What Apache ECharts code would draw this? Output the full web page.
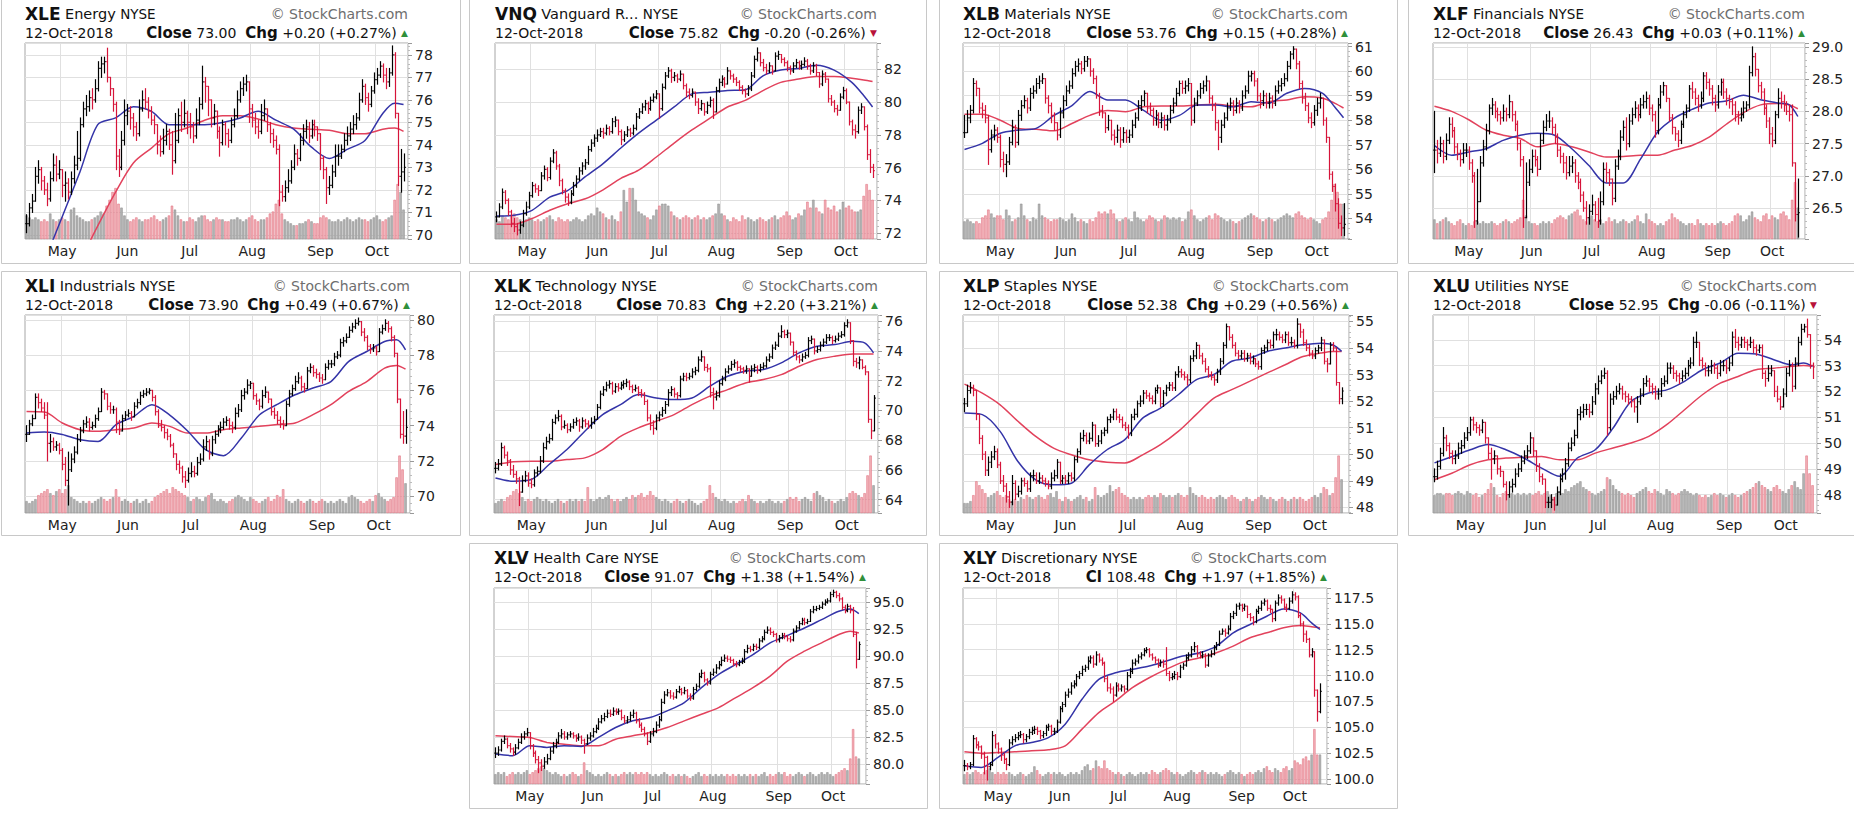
<!DOCTYPE html>
<html><head><meta charset="utf-8">
<script src="https://cdn.jsdelivr.net/npm/echarts@6/dist/echarts.min.js"></script>
<style>html,body{margin:0;padding:0;background:#fff;}#c{width:1854px;height:828px;}</style>
</head><body><div id="c"></div>
<script>
// ---- categories (trading days 13-Apr-2018 .. 12-Oct-2018) ----
const monthNames = ['Apr','May','Jun','Jul','Aug','Sep','Oct'];
const monthDays = [12,22,21,21,23,19,10];
const maDays = [0,6,12,18,24,30,36,42,48,54,60,66,72,78,84,90,96,102,108,114,120,124,127];

// ---- XLE ----
const xleC = [70.5,71.2,71.5,72.6,72.9,72.4,72.0,71.6,72.5,73.1,72.7,72.9,72.2,72.3,71.9,72.5,
73.1,73.4,74.9,75.6,75.7,76.1,76.0,76.5,77.4,77.6,77.7,77.0,76.5,75.8,73.5,73.0,
74.2,75.3,75.5,75.2,74.8,74.5,75.6,76.0,75.9,75.5,75.1,74.9,74.0,73.7,74.2,74.6,
74.0,73.3,74.2,75.3,75.0,75.4,75.0,74.8,74.4,75.1,75.8,76.8,76.6,76.0,75.2,75.5,
74.6,74.1,74.9,74.5,74.2,74.9,75.3,76.0,76.5,76.7,76.8,75.6,75.1,74.8,74.6,75.3,
75.6,74.9,74.5,74.2,73.8,71.9,71.7,72.1,72.4,73.0,73.6,73.4,74.2,74.6,74.8,74.4,
74.9,74.8,74.5,73.4,72.9,72.1,72.2,72.8,73.5,73.5,73.8,74.2,74.4,74.7,74.9,75.2,
76.0,76.6,76.1,75.8,76.4,76.9,77.1,77.5,77.1,76.8,77.2,78.0,75.4,72.6,72.8,73.0];
const xleH = [70.9,71.4,71.8,73.0,73.3,73.0,72.6,72.3,72.8,73.6,73.5,73.3,72.9,72.8,72.5,72.8,
73.5,74.6,75.2,75.9,76.2,76.4,76.5,76.9,77.7,77.9,77.9,78.3,77.0,76.4,75.9,73.8,
74.6,76.0,75.8,75.7,75.4,75.0,76.0,76.4,76.5,76.1,75.7,75.3,74.8,74.4,74.7,74.9,
74.7,74.6,75.4,75.6,75.9,76.0,75.5,75.4,75.0,75.6,76.1,77.5,77.0,76.6,75.9,75.8,
75.5,74.8,75.1,75.0,74.7,75.2,75.6,76.4,76.8,77.0,77.1,76.5,75.8,75.4,75.1,75.8,
76.0,75.5,75.0,74.7,74.4,74.0,72.2,72.4,72.9,73.3,74.0,73.8,74.5,74.9,75.1,75.0,
75.1,75.1,74.8,74.3,73.5,73.0,72.6,73.1,74.0,74.0,74.0,74.5,74.8,75.0,75.3,75.4,
76.3,76.9,76.7,76.3,76.6,77.2,77.4,77.7,77.6,77.4,77.4,78.4,78.1,74.7,73.8,73.6];
const xleL = [70.1,70.4,71.0,71.5,72.3,72.0,71.8,71.3,71.5,72.4,72.4,72.5,71.7,71.5,71.6,71.8,
72.3,72.9,73.3,74.8,75.3,75.5,75.6,75.9,76.4,77.0,77.2,76.8,76.2,75.5,72.9,72.6,
72.9,74.0,74.9,74.7,74.4,74.2,74.4,75.5,75.6,75.2,74.9,74.5,73.6,73.5,73.6,74.0,
73.8,72.7,73.2,74.1,74.6,74.8,74.5,74.3,74.1,74.3,74.9,75.6,75.9,75.3,74.8,74.9,
74.3,73.5,74.0,74.0,73.9,74.1,74.8,75.2,75.9,76.2,76.4,75.0,74.8,74.5,74.3,74.5,
75.1,74.6,74.1,73.9,73.6,71.3,71.5,71.5,71.9,72.3,72.9,73.1,73.3,74.0,74.3,74.1,
74.3,74.4,74.2,72.9,72.5,71.4,71.8,72.1,72.6,73.1,73.4,73.7,74.0,74.2,74.5,74.7,
75.1,75.9,75.8,75.5,75.7,76.3,76.7,77.0,76.8,76.5,76.6,77.1,75.2,72.2,71.9,72.4];
const xleV = [12,11,10,11,10,9,10,9,13,10,9,10,11,10,9,15,
16,12,11,10,9,9,10,11,12,14,13,17,20,24,26,18,
16,12,10,9,10,11,10,9,10,10,11,12,10,9,10,11,
12,17,15,12,10,9,9,11,10,9,11,12,12,10,9,10,
11,10,10,9,9,10,10,11,10,9,10,11,12,10,9,10,
10,11,13,14,18,20,13,10,9,8,7,7,8,8,9,10,
9,8,8,11,12,11,10,9,9,10,9,10,11,10,9,10,
11,10,10,9,10,11,12,10,9,10,11,12,20,28,24,15];
const xleMa20 = [66.7,68.8,70.8,72.8,74.9,75.2,75.7,75.5,74.9,74.9,74.9,75.0,75.2,75.5,75.1,74.7,73.9,73.4,73.8,74.2,75.4,75.85,75.8];
const xleMa50 = [63.5,65.3,67.0,68.8,70.4,71.9,73.2,73.85,74.5,74.75,75.1,75.3,75.3,75.15,74.9,74.75,74.7,74.65,74.5,74.5,74.7,74.75,74.6];

// ---- VNQ ----
const vnqC = [73.0,73.6,74.5,74.0,73.3,72.6,72.4,72.2,72.5,73.2,73.6,74.3,74.9,74.7,74.6,75.5,
75.9,75.4,76.4,76.9,76.1,75.2,74.6,74.2,73.9,74.4,74.9,75.3,75.8,76.1,76.3,77.1,
77.5,77.8,78.0,78.2,78.1,78.4,78.2,78.8,78.9,78.2,77.7,78.0,78.3,78.1,78.4,79.1,
79.4,79.7,79.9,79.6,80.1,80.3,80.5,79.6,80.9,81.6,81.9,81.5,81.6,81.4,81.7,81.0,
80.6,80.4,80.6,80.0,79.6,79.9,79.4,79.8,80.1,79.4,80.7,81.2,81.4,81.1,81.9,81.6,
81.4,81.2,80.9,80.7,80.5,80.8,81.6,82.6,83.0,82.4,82.1,81.9,82.2,81.9,82.8,82.9,
82.6,82.4,82.1,81.9,82.2,82.4,82.2,82.3,82.5,82.2,81.9,82.2,81.8,81.1,81.7,81.4,
80.2,80.0,79.6,79.5,80.3,80.7,80.0,78.8,78.3,78.2,79.5,79.7,78.5,76.8,76.02,75.82];
const vnqH = [73.3,73.8,74.7,74.6,74.1,73.4,72.9,72.6,72.7,73.4,73.9,74.5,75.1,75.0,74.9,75.7,
76.1,76.0,76.6,77.1,77.0,76.2,75.3,74.7,74.4,74.6,75.1,75.5,76.0,76.3,76.5,77.3,
77.7,78.0,78.3,78.4,78.4,78.6,78.5,79.0,79.1,78.9,78.3,78.2,78.5,78.4,78.6,79.3,
79.6,79.9,80.1,80.0,80.3,80.5,80.7,80.4,81.1,81.8,82.1,82.0,81.8,81.7,81.9,81.7,
81.1,80.8,80.8,80.6,80.2,80.1,79.9,80.0,80.3,80.2,80.9,81.4,81.6,81.5,82.1,81.9,
81.7,81.5,81.3,81.0,80.8,81.0,81.8,82.8,83.3,83.0,82.6,82.3,82.4,82.2,83.0,83.1,
82.9,82.7,82.5,82.2,82.4,82.6,82.5,82.5,82.7,82.6,82.3,82.4,82.3,81.8,81.9,81.8,
81.3,80.4,80.1,79.8,80.5,80.9,80.8,80.0,78.9,78.6,79.7,79.9,79.7,78.6,77.1,76.2];
const vnqL = [72.7,73.0,73.5,73.8,73.1,72.4,72.1,71.9,72.0,72.4,73.1,73.5,74.2,74.5,74.3,74.6,
75.3,75.2,75.3,76.3,75.9,74.9,74.4,73.9,73.7,73.8,74.3,74.8,75.2,75.6,75.9,76.2,
77.0,77.3,77.6,77.9,77.8,78.0,78.0,78.1,78.5,78.0,77.4,77.6,77.9,77.9,78.0,78.3,
79.0,79.3,79.5,79.3,79.5,80.0,80.2,79.0,79.5,80.8,81.5,81.2,81.3,81.2,81.3,80.8,
80.3,80.2,80.3,79.8,79.3,79.5,79.2,79.3,79.7,79.0,79.4,80.6,81.0,80.9,81.1,81.4,
81.2,81.0,80.7,80.5,80.3,80.4,80.7,81.5,82.5,82.2,81.9,81.7,81.8,81.7,81.9,82.6,
82.4,82.2,81.9,81.7,81.8,82.1,82.0,82.0,82.2,82.0,81.7,81.8,81.6,80.9,81.0,81.2,
80.0,79.8,79.4,79.2,79.5,80.2,79.9,78.6,78.0,77.8,78.1,79.3,78.3,76.5,75.7,75.4];
const vnqV = [10,9,12,11,10,12,13,11,10,9,10,11,10,9,10,9,
10,11,12,10,9,11,10,9,10,9,10,11,10,9,10,12,
13,12,16,14,13,11,10,12,10,9,14,25,19,26,26,20,
14,13,12,11,10,12,15,17,18,18,17,14,12,11,10,11,
12,11,10,11,12,10,11,10,11,12,13,18,13,12,10,9,
11,10,9,12,10,11,10,9,10,11,10,9,10,11,12,10,
11,12,14,12,10,11,13,12,15,19,16,20,16,14,13,20,
16,15,17,14,15,19,16,17,15,14,14,15,22,28,25,20];
const vnqMa20 = [73.05,73.1,73.4,74.2,74.6,75.45,76.25,77.2,78.1,78.9,79.7,80.5,80.6,80.7,80.75,81.6,81.95,82.05,82.25,81.95,81.2,80.4,79.7];
const vnqMa50 = [72.55,72.55,72.9,73.4,73.8,74.1,74.65,75.35,75.85,76.65,77.5,78.3,79.0,79.7,80.1,80.7,81.2,81.4,81.55,81.55,81.45,81.35,81.25];

// ---- XLB ----
const xlbC = [57.5,58.1,58.4,59.5,59.3,58.5,58.4,58.1,56.8,57.4,57.6,57.3,56.4,56.2,56.3,57.1,
57.7,57.1,58.2,58.6,58.8,58.5,59.1,59.2,59.5,59.6,59.7,58.9,58.6,58.2,57.9,57.4,
58.3,58.8,59.2,59.4,59.9,60.2,60.3,60.1,60.4,60.5,60.0,59.7,59.0,58.4,58.3,57.7,
58.0,57.4,57.3,57.6,57.2,57.5,57.3,57.4,57.8,58.1,58.6,58.8,59.1,58.5,58.4,58.0,
58.2,57.9,58.1,57.8,58.0,58.4,58.7,59.1,59.5,59.3,59.4,59.5,58.0,58.7,59.0,59.3,
59.4,59.6,58.9,58.6,57.9,57.3,57.8,58.1,58.5,58.7,58.4,58.7,58.5,59.0,59.2,59.8,
59.9,59.6,59.0,58.8,59.0,58.7,58.9,58.7,59.2,59.4,59.5,59.7,60.2,60.7,60.9,60.3,
59.5,58.9,58.6,58.1,57.9,58.4,58.7,58.9,58.0,57.3,55.8,55.3,54.6,53.8,53.61,53.76];
const xlbH = [58.2,58.4,58.6,59.7,59.6,59.3,58.7,58.6,58.2,57.6,57.8,57.7,57.4,56.7,56.6,57.3,
58.0,57.8,58.4,58.8,59.0,58.9,59.3,59.4,59.7,59.8,59.9,59.7,59.0,58.7,58.3,57.9,
58.5,59.0,59.4,59.6,60.1,60.4,60.5,60.4,60.6,60.6,60.5,60.1,59.8,59.1,58.6,58.3,
58.2,58.0,57.6,57.8,57.7,57.7,57.6,57.6,58.0,58.3,58.8,59.0,59.2,59.1,58.7,58.5,
58.4,58.3,58.3,58.2,58.2,58.6,58.9,59.3,59.6,59.6,59.6,59.7,59.5,58.9,59.2,59.5,
59.6,59.8,59.6,59.0,58.7,58.0,58.0,58.3,58.7,58.9,58.8,58.9,58.8,59.2,59.4,60.0,
60.0,60.0,59.7,59.1,59.2,59.1,59.1,59.0,59.4,59.6,59.7,59.9,60.4,60.8,61.0,60.9,
60.4,59.6,59.1,58.7,58.3,58.6,58.9,59.1,58.9,58.1,56.9,55.9,55.4,54.8,54.1,54.6];
const xlbL = [57.3,57.5,57.9,58.3,59.0,58.3,58.1,57.9,56.2,56.7,57.2,57.1,56.1,55.9,55.7,56.2,
57.0,56.9,57.0,58.0,58.5,58.3,58.4,58.9,59.1,59.3,59.5,58.7,58.3,57.9,57.6,57.2,
57.3,58.1,58.6,59.1,59.3,59.8,60.0,59.9,60.0,60.2,59.8,59.5,58.9,58.2,58.1,57.5,
57.6,57.2,57.0,57.1,56.9,57.1,57.1,57.1,57.3,57.7,58.0,58.4,58.6,58.3,58.2,57.8,
57.8,57.7,57.7,57.6,57.6,57.9,58.3,58.6,59.0,59.1,59.1,59.2,57.8,57.9,58.6,58.9,
59.1,59.2,58.7,58.4,57.6,56.8,57.1,57.7,58.0,58.4,58.2,58.3,58.3,58.4,58.9,59.1,
59.6,59.4,58.8,58.5,58.6,58.5,58.5,58.5,58.6,59.1,59.2,59.4,59.6,60.1,60.5,60.1,
59.3,58.7,58.4,57.9,57.7,57.8,58.2,58.5,57.8,57.1,55.6,55.1,54.3,53.6,53.3,53.3];
const xlbV = [9,10,9,8,9,8,11,12,15,13,11,12,12,10,15,12,
9,10,11,18,12,10,9,11,10,18,12,11,10,9,10,10,
11,10,9,10,13,11,9,10,9,8,10,9,11,14,13,14,
13,15,13,10,9,10,11,10,9,14,11,10,9,10,12,11,
10,9,10,12,11,10,11,10,11,9,10,14,15,12,10,9,
10,11,12,10,13,12,11,10,9,10,9,8,9,10,11,12,
13,12,11,10,9,10,11,10,9,10,11,12,13,12,11,13,
14,12,11,10,11,10,9,8,10,11,14,20,28,24,18,18];
const xlbMa20 = [56.81,57.06,57.47,57.6,57.67,58.2,58.6,59.17,58.83,58.83,58.4,58.0,58.2,58.62,58.62,58.55,58.76,58.7,59.1,59.3,59.1,58.55,58.1];
const xlbMa50 = [58.25,58.25,58.0,57.67,57.63,57.57,57.87,58.2,58.4,58.35,58.55,58.58,58.58,58.62,58.65,58.58,58.55,58.76,58.83,58.96,58.9,58.7,58.5];

// ---- XLF ----
const xlfC = [27.40,27.35,27.50,27.30,27.55,27.80,27.70,27.45,27.35,27.25,27.40,27.40,27.20,27.00,26.30,26.60,
27.20,27.45,27.70,28.05,28.10,28.00,27.95,27.90,28.00,27.95,28.15,27.95,27.80,27.50,27.25,26.35,
26.90,27.10,27.30,27.25,27.10,27.55,27.75,27.85,27.85,27.75,27.60,27.40,27.30,27.20,27.05,27.15,
27.20,27.00,26.90,26.70,26.50,26.35,26.45,26.55,26.40,26.30,26.60,27.10,27.05,26.95,26.65,27.15,
27.30,27.60,27.75,27.50,27.85,27.95,28.05,27.95,28.10,28.15,28.20,28.05,27.95,27.70,28.10,28.30,
28.40,28.20,27.90,27.75,27.65,27.55,27.80,27.95,28.05,28.35,28.30,28.20,28.10,28.20,28.55,28.45,
28.35,28.20,28.10,28.30,28.45,28.30,28.20,28.15,28.10,27.95,27.90,27.95,28.05,28.10,28.60,28.85,
28.65,28.40,28.30,28.05,27.85,27.65,27.55,27.95,28.20,28.15,28.10,28.00,27.95,27.20,26.40,26.43];
const xlfH = [28.00,27.55,27.60,27.55,27.65,27.90,27.90,27.75,27.50,27.40,27.50,27.50,27.45,27.25,27.05,27.10,
27.30,27.55,27.80,28.10,28.20,28.15,28.05,28.00,28.10,28.05,28.25,28.15,28.00,27.85,27.55,27.30,
27.20,27.25,27.40,27.40,27.30,27.65,27.85,27.95,28.00,27.90,27.80,27.65,27.45,27.35,27.30,27.30,
27.30,27.25,27.05,26.95,26.75,26.60,26.55,26.70,26.60,26.65,26.75,27.20,27.20,27.10,26.95,27.25,
27.40,27.70,27.85,27.90,27.95,28.05,28.15,28.10,28.20,28.25,28.30,28.25,28.10,28.00,28.20,28.40,
28.45,28.40,28.20,27.95,27.75,27.70,27.85,28.00,28.10,28.40,28.45,28.35,28.25,28.30,28.60,28.60,
28.50,28.40,28.25,28.40,28.50,28.50,28.35,28.25,28.20,28.15,28.00,28.05,28.15,28.15,28.70,29.00,
28.90,28.65,28.45,28.35,28.10,27.90,27.75,28.00,28.35,28.30,28.25,28.15,28.10,28.10,27.20,26.95];
const xlfL = [27.05,27.20,27.30,27.20,27.25,27.50,27.60,27.35,27.25,27.15,27.20,27.30,27.10,26.90,26.20,26.25,
26.60,27.15,27.40,27.65,27.95,27.90,27.85,27.80,27.85,27.85,27.90,27.85,27.70,27.40,27.15,26.20,
26.35,26.85,27.05,27.15,27.00,27.10,27.50,27.70,27.75,27.65,27.50,27.30,27.20,27.05,26.95,27.00,
27.05,26.90,26.80,26.60,26.45,26.25,26.25,26.40,26.30,26.20,26.25,26.55,26.90,26.85,26.55,26.60,
27.10,27.25,27.55,27.40,27.45,27.80,27.90,27.85,27.90,28.05,28.05,27.95,27.85,27.60,27.65,28.05,
28.25,28.15,27.85,27.65,27.55,27.45,27.50,27.75,27.90,28.00,28.20,28.10,28.00,28.05,28.15,28.35,
28.25,28.10,28.00,28.05,28.25,28.20,28.10,28.05,27.95,27.85,27.80,27.85,27.90,28.00,28.05,28.55,
28.55,28.30,28.20,27.95,27.75,27.50,27.45,27.50,27.90,28.05,28.00,27.95,27.85,27.15,26.30,26.05];
const xlfV = [10,8,9,10,11,9,8,7,9,10,8,7,8,7,9,9,
8,9,8,8,9,8,7,8,9,10,9,8,9,10,11,20,
12,9,8,8,7,8,9,8,9,8,10,11,12,11,10,12,
13,14,15,12,10,9,11,12,10,9,10,8,9,11,9,10,
8,9,10,9,8,9,10,12,9,8,13,10,9,8,7,8,
7,9,10,13,11,10,9,8,7,8,8,7,10,8,7,8,
7,8,7,8,9,8,7,8,9,12,13,12,9,10,12,14,
11,10,9,12,13,10,12,11,10,13,14,12,10,20,29,16];
const xlfMa20 = [27.47,27.32,27.37,27.42,27.55,27.63,27.66,27.63,27.42,27.16,26.89,26.89,27.26,27.68,27.9,28.03,28.13,28.16,28.25,28.18,28.13,28.1,27.92];
const xlfMa50 = [28.08,28.0,27.87,27.71,27.63,27.58,27.45,27.5,27.45,27.37,27.29,27.3,27.32,27.32,27.4,27.47,27.6,27.8,27.98,28.1,28.12,28.1,28.04];

// ---- XLI ----
const xliC = [73.5,74.1,74.4,75.6,75.3,75.0,74.6,73.0,73.1,72.8,72.9,72.6,71.8,70.9,71.5,72.1,
72.5,73.2,73.7,74.1,74.2,73.9,74.0,74.4,74.8,75.9,75.8,75.1,74.9,74.9,74.2,73.7,
74.4,74.6,74.7,74.5,75.1,75.3,75.7,75.8,75.9,76.0,75.6,74.8,74.0,73.9,73.6,73.4,
72.9,72.4,71.8,71.6,71.1,70.9,71.3,71.4,71.3,71.9,72.1,72.8,73.1,72.4,73.2,73.5,
73.8,73.9,74.2,74.3,74.0,73.9,74.7,74.9,75.7,75.9,76.3,76.4,75.7,75.4,75.1,75.7,
75.9,75.5,74.8,74.6,74.3,74.1,74.0,75.2,75.8,76.1,76.5,76.7,76.2,76.1,77.1,77.3,
77.0,76.9,76.7,76.6,77.3,77.5,77.5,77.9,78.0,78.7,78.8,79.0,79.4,79.6,79.8,79.9,
79.3,79.0,78.5,78.3,78.4,78.2,79.3,79.5,79.8,79.5,79.0,78.1,75.5,73.5,73.41,73.90];
const xliH = [74.0,74.3,74.6,75.8,75.8,75.5,75.3,75.3,73.5,73.3,73.1,73.0,72.7,72.2,72.5,72.4,
72.8,73.5,73.9,74.3,74.5,74.4,74.2,74.6,75.0,76.1,76.0,75.8,75.3,75.1,75.0,74.3,
74.6,74.8,74.9,74.8,75.3,75.5,75.9,76.0,76.1,76.1,76.0,75.7,74.9,74.3,74.0,73.8,
73.5,73.0,72.4,72.0,71.7,71.4,71.6,71.9,71.7,72.2,72.4,73.2,73.4,73.2,73.4,73.7,
74.0,74.2,74.4,74.5,74.4,74.2,75.0,75.2,76.0,76.1,76.6,76.5,76.3,75.8,75.5,76.0,
76.2,75.9,75.5,75.0,74.8,74.5,74.3,75.4,76.0,76.3,76.8,77.0,76.8,76.4,77.3,77.5,
77.4,77.2,77.0,76.9,77.5,77.7,77.7,78.1,78.2,78.9,79.0,79.2,79.6,79.8,80.0,80.1,
79.9,79.5,79.1,78.6,78.6,78.5,79.5,79.7,80.0,79.9,79.6,79.1,77.8,75.4,74.8,74.9];
const xliL = [73.1,73.5,74.0,74.4,75.0,74.8,74.4,72.0,72.5,72.6,72.6,72.4,71.5,70.6,69.5,71.4,
71.9,72.4,73.1,73.6,73.9,73.7,73.8,73.9,74.3,74.8,75.5,74.9,74.7,74.7,73.6,73.5,
73.7,74.3,74.5,74.3,74.5,75.0,75.2,75.6,75.7,75.8,75.4,74.6,73.9,73.7,73.3,73.2,
72.8,72.2,71.5,71.3,70.8,70.5,70.8,71.1,71.1,71.2,71.8,72.0,72.6,72.1,72.3,73.0,
73.4,73.6,73.8,74.0,73.8,73.6,73.8,74.5,74.8,75.5,75.8,76.1,75.5,75.2,74.9,75.0,
75.6,75.3,74.6,74.4,74.1,73.9,73.8,74.0,75.1,75.7,76.0,76.4,76.0,75.9,76.1,77.0,
76.8,76.7,76.5,76.4,76.6,77.2,77.3,77.4,77.8,77.9,78.5,78.7,79.0,79.3,79.5,79.7,
79.1,78.8,78.3,78.1,78.2,78.0,78.2,79.2,79.4,79.3,78.8,77.9,75.3,73.3,73.0,73.0];
const xliV = [6,5,6,7,9,10,11,12,10,9,11,12,10,12,14,8,
7,6,5,6,5,6,5,6,7,8,7,6,7,8,12,8,
6,7,6,5,6,7,5,6,7,5,6,8,9,10,11,12,
10,13,12,11,10,9,8,6,7,8,7,6,8,9,10,7,
6,7,6,5,6,7,8,9,8,7,6,8,7,6,5,6,
7,8,6,7,9,8,12,7,6,5,6,7,6,5,6,7,
6,5,6,7,6,5,6,5,6,7,6,5,8,9,8,7,
6,5,6,7,6,9,10,8,7,6,7,8,18,29,22,15];
const xliMa20 = [73.58,73.64,73.5,73.2,73.1,74.06,74.53,75.19,74.6,73.7,72.64,72.3,73.3,74.6,75.2,75.75,76.13,76.5,77.64,78.2,78.77,78.87,78.3];
const xliMa50 = [74.8,74.77,74.15,73.77,73.68,73.77,73.87,74.15,73.96,73.58,73.58,73.77,73.87,73.96,74.06,74.15,74.62,75.19,75.94,76.5,77.26,77.41,77.2];

// ---- XLK ----
const xlkC = [66.1,66.4,67.5,67.0,66.6,66.0,65.7,65.4,64.5,65.3,65.6,65.1,65.0,65.8,65.9,66.6,
67.5,67.9,68.1,69.2,69.5,69.6,68.9,69.0,68.7,68.9,69.2,69.3,68.9,69.3,69.1,69.0,
69.2,69.4,70.2,71.1,71.4,71.7,71.8,71.3,71.6,71.5,71.7,71.8,71.9,71.6,71.4,71.5,
71.2,71.1,70.6,69.5,69.0,68.8,69.5,69.7,70.0,70.4,71.2,71.4,71.1,71.0,72.1,72.3,
72.2,72.3,72.6,72.7,73.4,73.6,72.9,72.8,71.2,70.9,71.0,71.8,72.1,72.6,72.8,73.1,
73.2,72.9,72.8,72.7,72.8,72.3,72.8,72.9,72.7,72.9,73.0,73.4,73.6,74.2,74.4,75.0,
75.3,75.1,75.2,74.6,73.9,73.6,73.4,73.6,73.7,74.7,74.8,74.0,74.1,74.4,74.6,74.9,
74.9,74.7,74.8,75.0,75.1,75.7,75.9,74.7,73.3,73.2,73.4,72.9,72.6,69.4,68.63,70.83];
const xlkH = [66.5,66.7,67.8,67.6,67.2,66.7,66.3,65.9,65.5,65.6,65.9,65.8,65.4,66.0,66.2,66.9,
67.8,68.2,68.4,69.4,69.7,70.0,69.7,69.3,69.1,69.1,69.4,69.5,69.4,69.5,69.4,69.3,
69.5,69.6,70.4,71.3,71.6,71.9,72.0,71.9,71.8,71.8,71.9,72.0,72.1,72.0,71.7,71.7,
71.6,71.4,71.2,70.7,69.7,69.3,69.7,69.9,70.2,70.6,71.4,71.6,71.5,71.2,72.3,72.5,
72.5,72.5,72.8,72.9,73.6,74.0,73.6,73.1,72.9,71.5,71.3,72.0,72.3,72.8,73.0,73.3,
73.4,73.3,73.0,72.9,73.0,72.8,73.0,73.1,73.0,73.1,73.2,73.6,73.8,74.4,74.6,75.2,
75.7,75.4,75.4,75.2,74.6,74.0,73.7,73.8,73.9,74.9,75.0,74.8,74.3,74.6,74.8,75.1,
75.1,75.0,75.0,75.2,75.3,75.9,76.1,75.9,74.7,73.5,73.6,73.4,73.0,72.6,69.4,71.0];
const xlkL = [65.8,66.0,66.3,66.8,66.3,65.7,65.5,65.1,63.6,64.5,65.2,64.9,64.8,64.9,65.6,65.8,
66.5,67.4,67.8,68.0,69.1,69.3,68.7,68.8,68.5,68.6,68.8,69.0,68.6,68.8,68.9,68.8,
68.8,69.1,69.4,70.1,71.0,71.3,71.5,71.1,71.2,71.3,71.4,71.5,71.6,71.4,71.2,71.3,
71.0,70.9,70.4,69.3,68.7,68.4,68.7,69.3,69.6,69.8,70.3,71.0,70.9,70.8,70.9,72.0,
72.0,72.1,72.2,72.4,72.6,73.3,72.7,72.6,70.9,70.1,70.7,70.9,71.7,72.0,72.5,72.7,
72.9,72.7,72.6,72.5,72.5,71.9,72.3,72.6,72.5,72.6,72.8,72.9,73.3,73.5,74.1,74.3,
74.9,74.9,74.9,74.4,73.7,73.4,73.2,73.3,73.5,73.6,74.5,73.8,73.9,74.0,74.3,74.5,
74.7,74.5,74.6,74.7,74.9,75.0,75.6,74.5,73.0,72.9,72.8,72.8,72.4,69.2,68.1,69.5];
const xlkV = [5,6,7,6,8,9,11,12,10,8,6,7,6,7,8,7,
6,7,6,5,6,7,6,5,6,7,6,7,6,7,6,13,
7,6,7,8,7,8,9,7,6,7,6,7,8,7,9,8,
9,10,8,9,11,9,8,7,6,7,6,5,6,7,6,5,
6,7,6,5,4,5,6,7,14,10,8,7,6,7,6,5,
6,5,6,7,6,9,7,6,5,6,5,6,7,6,5,6,
5,6,7,8,7,8,6,7,8,7,6,10,11,9,8,6,
7,6,5,6,7,6,8,10,11,10,9,8,10,19,29,14];
const xlkMa20 = [65.46,65.24,65.35,66.36,67.37,68.6,69.72,70.39,71.07,70.84,70.73,70.84,71.63,72.3,72.64,72.75,73.2,73.87,74.32,74.43,74.65,74.54,73.87];
const xlkMa50 = [66.36,66.54,66.58,66.58,66.7,66.81,67.37,68.26,68.83,69.27,69.72,70.39,70.96,71.4,71.85,72.08,72.41,72.97,73.42,73.65,73.8,73.8,73.8];

// ---- XLP ----
const xlpC = [51.9,52.4,52.5,52.4,51.5,50.6,50.0,49.4,49.7,49.9,50.1,49.6,49.0,48.8,48.4,48.2,
48.9,48.5,48.6,49.0,48.9,48.7,49.2,49.2,49.0,49.1,49.0,48.9,48.8,49.1,49.2,49.7,
49.0,49.1,49.0,49.2,49.1,49.8,50.1,50.6,50.7,50.5,50.6,51.1,50.4,50.5,50.8,50.9,
51.3,51.4,51.6,51.4,51.3,51.1,51.0,50.8,51.4,51.5,51.9,52.0,52.3,52.2,52.1,52.0,
52.4,52.5,51.9,52.3,52.5,52.6,52.5,53.0,53.1,53.0,52.9,52.8,53.6,53.7,54.1,53.7,
53.5,53.2,53.0,52.9,52.8,53.1,53.5,54.1,54.8,54.4,54.1,53.8,53.7,53.8,53.6,53.7,
53.5,53.6,53.4,53.3,53.9,54.0,54.2,54.1,54.5,54.5,54.4,54.3,54.5,54.2,54.2,54.1,
54.9,54.6,54.2,54.0,53.8,53.7,53.9,54.0,54.3,53.5,53.4,54.1,54.0,52.7,52.09,52.38];
const xlpH = [52.1,52.6,52.7,52.6,52.4,51.5,50.7,50.1,49.9,50.1,50.3,50.2,49.7,49.2,48.9,48.6,
49.2,49.0,48.8,49.1,49.1,49.0,49.3,49.4,49.3,49.3,49.2,49.1,49.0,49.3,49.4,49.8,
49.7,49.2,49.2,49.3,49.3,49.9,50.2,50.8,50.9,50.8,50.8,51.2,51.1,50.7,50.9,51.0,
51.4,51.5,51.7,51.7,51.5,51.4,51.2,51.1,51.5,51.7,52.0,52.2,52.4,52.4,52.3,52.2,
52.5,52.6,52.5,52.4,52.6,52.7,52.7,53.1,53.3,53.2,53.1,53.0,53.7,53.9,54.2,54.1,
53.8,53.6,53.3,53.1,53.0,53.2,53.6,54.2,54.9,54.8,54.5,54.2,53.9,53.9,53.9,53.8,
53.8,53.7,53.6,53.5,54.0,54.1,54.3,54.3,54.6,54.7,54.6,54.5,54.6,54.6,54.4,54.3,
55.1,54.9,54.7,54.3,54.1,53.9,54.0,54.1,54.4,54.3,53.6,54.2,54.2,53.9,52.7,52.5];
const xlpL = [51.6,51.8,52.3,52.2,51.3,50.4,49.8,49.2,49.2,49.5,49.8,49.5,48.9,48.6,48.2,48.0,
48.1,48.3,48.4,48.5,48.8,48.6,48.6,49.0,48.9,48.9,48.9,48.8,48.7,48.7,49.0,49.1,
48.9,48.9,48.9,48.9,49.0,49.0,49.7,50.0,50.5,50.4,50.4,50.5,50.3,50.3,50.4,50.7,
50.8,51.2,51.3,51.3,51.2,51.0,50.9,50.6,50.7,51.3,51.4,51.8,51.9,52.1,52.0,51.9,
51.9,52.3,51.8,51.8,52.2,52.4,52.4,52.4,52.9,52.9,52.8,52.6,52.7,53.5,53.6,53.6,
53.4,53.1,52.9,52.8,52.6,52.7,53.0,53.4,54.0,54.3,54.0,53.7,53.6,53.6,53.5,53.5,
53.4,53.4,53.3,53.2,53.2,53.8,53.9,54.0,54.0,54.3,54.3,54.2,54.2,54.1,54.1,54.0,
54.0,54.4,54.1,53.9,53.7,53.6,53.6,53.8,53.9,53.4,53.1,53.4,53.9,52.6,51.9,51.9];
const xlpV = [5,5,6,9,16,14,12,10,8,9,10,11,9,8,9,7,
6,7,6,8,7,9,8,7,8,9,8,7,9,10,8,11,
7,6,8,7,6,7,8,9,7,8,6,7,13,9,8,9,
10,14,11,12,13,10,9,8,7,8,7,8,7,8,9,8,
9,8,10,9,8,9,8,9,10,9,8,9,13,10,9,8,
9,8,7,8,7,8,9,8,7,8,9,8,7,6,7,8,
7,6,7,8,9,8,7,8,7,6,7,8,7,6,7,8,
7,8,7,6,7,8,9,8,10,13,12,9,10,18,29,17];
const xlpMa20 = [51.55,51.49,50.86,49.73,49.04,48.85,48.91,49.6,50.17,50.55,51.36,51.74,52.24,52.8,53.0,53.5,53.62,53.87,54.0,54.12,54.18,54.12,53.87];
const xlpMa50 = [52.64,52.3,51.86,51.24,50.67,50.23,49.98,49.79,49.7,49.67,49.98,50.36,50.86,51.49,52.11,52.43,52.74,53.06,53.37,53.68,53.81,53.87,53.87];

// ---- XLU ----
const xluC = [48.7,49.1,49.6,50.2,49.9,49.6,49.4,49.5,49.8,49.9,50.2,50.4,50.9,50.7,50.6,50.5,
50.8,50.2,49.6,49.4,49.5,49.0,48.9,48.4,48.0,48.3,48.4,48.8,49.0,49.3,49.5,49.7,
50.2,49.7,49.1,48.7,48.6,47.7,47.7,47.8,47.6,48.1,48.6,48.8,49.2,49.8,50.0,50.3,
51.1,51.2,51.3,51.3,51.2,51.6,52.1,52.4,52.6,52.7,50.6,51.7,51.8,52.0,52.1,51.9,
51.8,51.7,51.6,51.4,51.6,51.9,52.3,52.4,52.2,52.1,51.9,51.9,52.3,52.4,52.9,52.9,
52.7,52.6,52.5,52.6,52.7,53.0,53.1,53.9,53.9,53.2,53.0,52.8,52.8,53.0,52.9,52.7,
53.0,53.0,52.9,53.1,54.1,53.9,53.8,54.0,53.9,53.8,53.9,53.7,53.6,53.7,52.7,52.5,
52.7,52.8,52.0,51.7,51.4,51.9,52.7,53.0,52.2,53.1,53.9,54.4,54.5,54.2,53.01,52.95];
const xluH = [49.0,49.3,49.8,50.6,50.3,50.0,49.7,49.7,50.0,50.1,50.4,50.6,51.0,51.0,50.8,50.7,
50.9,50.8,50.2,49.8,49.7,49.5,49.1,48.9,48.5,48.5,48.6,49.0,49.2,49.5,49.7,49.9,
50.4,50.2,49.7,49.2,48.8,48.6,47.9,48.0,47.9,48.3,48.8,49.0,49.4,50.0,50.2,50.5,
51.3,51.4,51.5,51.5,51.5,51.8,52.3,52.6,52.8,52.9,52.8,51.9,52.0,52.2,52.3,52.2,
52.0,51.9,51.8,51.7,51.8,52.1,52.5,52.6,52.5,52.3,52.2,52.1,52.5,52.6,53.1,53.1,
53.0,52.8,52.7,52.8,52.9,53.2,53.3,54.1,54.3,53.9,53.3,53.1,53.0,53.2,53.1,53.0,
53.2,53.2,53.2,53.3,54.3,54.4,54.1,54.1,54.1,54.0,54.1,54.0,53.8,53.8,53.8,52.8,
53.0,53.0,52.8,52.2,51.8,52.1,52.9,53.2,53.1,53.3,54.1,54.6,54.6,54.8,54.2,53.1];
const xluL = [48.5,48.6,49.0,49.5,49.7,49.4,49.2,49.2,49.4,49.6,49.8,50.1,50.3,50.5,50.4,50.3,
50.4,50.0,49.4,48.6,49.2,48.8,48.7,48.3,47.8,47.9,48.1,48.3,48.7,48.9,49.2,49.4,
49.6,49.5,48.9,48.5,48.4,47.5,47.5,47.5,47.4,47.6,48.0,48.5,48.6,49.1,49.7,49.9,
50.2,50.9,51.0,51.1,51.0,51.1,51.5,51.9,52.3,52.5,50.3,50.5,51.5,51.7,51.9,51.7,
51.6,51.5,51.4,51.2,50.8,51.5,51.8,52.2,52.0,51.9,51.7,51.7,51.8,52.2,52.3,52.7,
52.5,52.4,52.3,52.4,52.5,52.6,52.9,53.0,53.7,53.0,52.9,52.6,52.6,52.7,52.7,52.5,
52.6,52.8,52.7,52.8,53.0,53.7,53.6,53.7,53.7,53.6,53.7,53.5,53.4,53.5,52.5,52.2,
52.4,52.6,51.8,51.6,51.3,51.4,51.8,52.6,52.0,52.1,53.0,53.8,54.3,54.1,52.9,52.5];
const xluV = [9,10,10,9,10,10,9,10,11,10,9,11,10,9,10,8,
9,10,12,15,13,9,8,10,11,9,10,9,10,9,10,9,
10,9,10,11,9,10,11,9,8,10,11,10,12,11,13,14,
15,16,13,12,11,10,9,10,11,12,18,17,14,12,11,10,
9,10,9,8,10,11,12,13,11,10,12,11,10,9,12,11,
10,9,10,11,12,11,10,9,10,9,8,9,8,9,10,9,
10,9,8,9,10,9,8,9,10,11,12,13,15,16,14,13,
12,11,13,14,12,11,10,12,14,16,13,12,20,29,20,14];
const xluMa20 = [49.23,49.48,49.74,49.94,49.74,49.42,49.03,48.71,49.42,49.74,50.58,51.61,51.94,52.06,52.39,52.84,53.1,53.48,53.45,53.23,53.03,53.1,52.97];
const xluMa50 = [48.58,48.84,49.16,49.35,49.42,49.45,49.48,49.35,49.35,49.61,49.81,50.0,50.26,50.71,51.29,51.87,52.32,52.58,52.84,52.9,52.97,53.0,52.97];

// ---- XLV ----
const xlvC = [81.0,81.3,82.1,82.3,81.7,81.4,81.1,81.5,82.0,82.5,82.8,82.9,81.7,81.0,80.4,80.1,
79.8,80.2,80.5,81.2,81.7,82.0,82.6,82.8,82.5,82.7,82.8,82.6,82.4,82.5,82.2,81.9,
82.4,82.6,83.0,83.3,83.9,84.2,84.4,84.7,84.6,84.9,84.8,84.9,84.3,84.0,84.1,84.5,
84.7,84.0,83.6,83.2,82.8,82.1,82.8,83.0,83.6,84.1,85.7,86.4,86.6,86.3,86.2,86.7,
86.9,86.6,86.8,86.3,86.1,86.9,87.2,88.1,88.4,87.8,87.5,88.3,88.5,88.9,89.2,89.6,
89.8,89.7,89.6,89.3,89.2,89.4,89.5,90.4,90.7,90.6,90.9,90.8,91.4,91.6,92.2,92.4,
92.2,92.0,91.5,91.7,91.9,91.8,91.6,91.5,92.3,92.6,93.0,93.3,93.1,93.2,94.1,94.3,
94.4,94.5,94.8,95.0,95.1,95.7,95.9,95.6,95.3,94.5,94.2,94.6,94.2,92.0,89.69,91.07];
const xlvH = [81.5,81.6,82.3,82.6,82.4,81.9,81.5,81.8,82.3,82.8,83.0,83.3,82.9,81.8,81.2,80.7,
80.4,80.6,80.9,81.5,82.0,82.3,82.9,83.2,83.0,82.9,83.0,82.9,82.7,82.8,82.6,82.3,
82.7,82.9,83.3,83.6,84.2,84.5,84.7,85.0,85.0,85.2,85.1,85.1,85.0,84.5,84.4,84.8,
85.0,84.8,84.2,83.8,83.4,82.9,83.0,83.3,83.9,84.4,86.0,86.7,86.9,86.8,86.6,86.9,
87.2,87.0,87.1,86.9,86.5,87.1,87.4,88.4,88.7,88.5,87.9,88.5,88.8,89.2,89.5,89.9,
90.1,90.0,89.9,89.7,89.5,89.6,89.8,90.6,91.0,90.9,91.1,91.1,91.6,91.8,92.4,92.7,
92.6,92.3,92.1,91.9,92.1,92.1,91.9,91.8,92.5,92.8,93.2,93.5,93.5,93.4,94.3,94.6,
94.6,94.7,95.0,95.2,95.3,95.9,96.1,96.0,95.8,95.4,94.7,94.8,94.7,94.5,92.2,91.3];
const xlvL = [80.6,80.8,81.2,81.9,81.5,81.1,80.8,80.9,81.4,81.9,82.3,82.6,81.4,80.7,80.1,79.2,
79.4,79.6,80.0,80.4,81.0,81.5,81.9,82.4,82.3,82.3,82.5,82.4,82.1,82.2,81.9,81.0,
81.8,82.2,82.5,82.9,83.2,83.8,84.0,84.3,84.4,84.5,84.6,84.6,84.1,83.8,83.8,84.0,
84.3,83.8,83.4,83.0,82.6,81.8,82.0,82.6,82.9,83.4,84.0,85.6,86.3,86.1,86.0,86.1,
86.6,86.4,86.5,86.1,85.9,86.0,86.8,87.1,88.0,87.6,87.3,87.4,88.2,88.4,88.8,89.1,
89.5,89.5,89.4,89.1,89.0,89.1,89.3,89.4,90.3,90.4,90.5,90.6,90.7,91.3,91.5,92.1,
92.0,91.8,91.3,91.3,91.6,91.6,91.4,91.3,91.4,92.2,92.5,92.9,92.9,93.0,93.2,94.0,
94.2,94.3,94.4,94.7,94.9,95.0,95.5,95.4,95.1,94.3,94.0,94.1,94.0,91.8,88.9,89.9];
const xlvV = [5,6,5,6,4,5,6,5,6,5,6,7,5,6,7,8,
9,8,7,6,5,6,5,4,5,4,5,6,5,4,5,11,
7,6,5,4,5,4,5,6,5,4,5,4,5,6,5,6,
5,6,5,6,5,6,5,4,5,4,5,6,5,4,5,4,
5,4,5,4,3,4,5,6,4,5,4,5,4,5,4,5,
4,5,4,5,4,5,4,5,4,5,4,5,4,5,6,4,
5,4,5,6,5,6,4,5,4,5,6,5,4,5,6,5,
4,5,6,5,6,5,4,5,6,7,8,7,13,28,14,13];
const xlvMa20 = [80.92,80.77,81.69,81.54,81.69,81.63,82.46,83.38,84.0,84.3,84.92,85.69,87.07,88.3,89.22,90.14,91.22,91.9,92.6,93.37,94.14,94.35,93.92];
const xlvMa50 = [82.61,82.55,82.46,82.0,81.84,81.69,81.69,82.3,82.61,82.92,83.38,84.0,84.61,85.22,86.15,87.07,88.14,89.53,90.45,91.22,91.99,92.3,92.14];

// ---- XLY ----
const xlyC = [101.3,101.2,101.4,103.9,103.3,103.1,102.4,102.1,101.2,101.4,104.2,103.4,102.9,102.3,101.9,101.4,
103.5,103.8,104.0,104.2,104.3,103.8,104.1,104.5,104.7,104.8,104.6,104.2,104.4,105.0,105.1,104.6,
104.6,105.5,106.8,107.2,108.1,108.4,109.0,109.2,109.9,110.2,110.6,110.8,111.4,111.7,111.1,112.0,
111.5,111.2,109.7,108.8,108.7,108.1,109.0,108.7,108.9,108.7,110.0,110.4,111.2,111.4,111.8,112.0,
112.4,112.5,112.0,111.7,111.5,111.0,111.3,111.1,110.2,109.8,109.9,110.1,109.9,110.8,111.0,111.7,
111.9,112.5,112.8,112.1,111.9,112.0,111.0,111.9,112.1,112.7,113.0,114.0,114.3,114.1,114.5,115.7,
116.0,116.7,116.8,116.5,116.7,115.9,115.6,115.2,116.2,116.5,117.0,117.2,116.5,116.4,115.5,117.0,
117.5,117.3,116.6,116.5,117.2,117.8,117.6,115.8,115.0,114.0,113.5,112.0,112.3,108.6,106.51,108.48];
const xlyH = [101.8,101.5,101.6,104.2,104.0,103.6,103.2,102.6,102.2,101.6,104.6,104.3,103.5,103.0,102.5,102.0,
103.8,104.1,104.3,104.5,104.6,104.4,104.3,104.8,105.0,105.1,105.0,104.7,104.6,105.2,105.3,105.2,
104.9,105.7,107.0,107.4,108.4,108.7,109.3,109.5,110.1,110.4,110.9,111.0,111.8,111.9,111.9,112.3,
112.1,111.7,111.3,109.9,109.2,108.9,109.3,109.2,109.1,109.0,110.3,110.7,111.5,111.6,112.0,112.2,
112.6,112.7,112.6,112.1,111.8,111.6,111.5,111.5,112.7,110.4,110.2,110.4,110.3,111.0,111.2,112.0,
112.2,112.8,113.2,112.9,112.3,112.3,112.1,112.1,112.4,112.9,113.2,114.3,114.5,114.5,114.8,116.0,
116.2,116.9,117.0,116.9,116.9,116.7,116.0,115.7,116.4,116.7,117.2,117.4,117.3,116.8,116.4,117.2,
117.8,117.7,117.4,116.9,117.5,118.1,118.0,117.7,116.0,115.2,114.3,113.6,112.6,112.3,108.5,109.2];
const xlyL = [100.8,100.9,101.0,101.3,103.0,102.8,102.0,100.5,99.9,100.9,101.3,103.0,102.5,101.8,101.5,100.9,
101.3,103.3,103.6,103.8,104.0,103.5,103.6,103.9,104.3,104.4,104.3,103.9,104.0,104.2,104.7,104.3,
104.3,104.5,105.4,106.5,107.0,107.9,108.2,108.8,109.0,109.7,110.0,110.4,110.6,111.2,110.8,111.0,
111.3,111.0,109.4,108.5,108.3,107.5,108.0,108.5,108.5,108.4,108.6,109.8,110.2,111.0,111.2,111.6,
111.9,112.2,111.8,111.5,111.2,110.8,110.9,110.8,110.0,109.5,109.6,109.7,109.6,109.8,110.6,110.9,
111.5,111.8,112.3,111.8,111.7,111.7,110.8,110.9,111.8,112.0,112.5,112.9,114.0,113.8,114.0,114.4,
115.5,115.8,116.4,116.2,116.3,115.6,115.3,114.9,115.1,116.0,116.3,116.8,116.3,116.1,115.2,115.3,
116.8,117.0,116.4,116.2,116.4,117.0,117.3,115.6,114.8,113.3,113.2,111.8,111.8,108.0,105.6,106.4];
const xlyV = [5,6,5,6,7,6,5,6,7,8,6,5,6,5,6,5,
6,5,4,5,6,5,4,5,6,9,7,5,4,5,6,5,
6,5,6,5,4,5,6,5,6,5,7,9,10,7,8,12,
9,8,12,8,7,6,5,6,5,4,5,6,5,4,5,6,
5,6,5,7,6,5,6,7,8,7,6,5,6,5,4,5,
6,7,6,5,6,7,6,5,6,5,6,5,4,5,6,7,
6,5,6,5,4,5,6,5,6,7,6,8,9,7,6,8,
7,6,8,9,7,8,12,11,10,13,14,12,15,28,15,15];
const xlyMa20 = [101.28,101.12,102.09,103.21,103.53,104.01,105.3,107.71,109.63,110.27,110.6,110.92,111.4,111.88,112.2,112.84,114.13,114.93,115.73,116.44,116.05,115.09,114.45];
const xlyMa50 = [102.63,102.5,102.57,102.63,102.73,102.82,103.21,104.82,106.42,107.55,108.83,109.79,110.6,111.3,111.72,112.2,112.84,113.65,114.13,114.61,114.83,114.71,114.61];

// ---- panel descriptions (text + axis ranges) ----
const panels = [
 {sym:'XLE',name:'Energy',cl:'Close',close:'73.00',chg:'+0.20 (+0.27%)',up:true,C:xleC,H:xleH,L:xleL,V:xleV,m20:xleMa20,m50:xleMa50,yMin:69.82,yMax:78.53,step:1,dec:0},
 {sym:'VNQ',name:'Vanguard R...',cl:'Close',close:'75.82',chg:'-0.20 (-0.26%)',up:false,C:vnqC,H:vnqH,L:vnqL,V:vnqV,m20:vnqMa20,m50:vnqMa50,yMin:71.65,yMax:83.6,step:2,dec:0},
 {sym:'XLB',name:'Materials',cl:'Close',close:'53.76',chg:'+0.15 (+0.28%)',up:true,C:xlbC,H:xlbH,L:xlbL,V:xlbV,m20:xlbMa20,m50:xlbMa50,yMin:53.16,yMax:61.15,step:1,dec:0},
 {sym:'XLF',name:'Financials',cl:'Close',close:'26.43',chg:'+0.03 (+0.11%)',up:true,C:xlfC,H:xlfH,L:xlfL,V:xlfV,m20:xlfMa20,m50:xlfMa50,yMin:26.02,yMax:29.06,step:0.5,dec:1},
 {sym:'XLI',name:'Industrials',cl:'Close',close:'73.90',chg:'+0.49 (+0.67%)',up:true,C:xliC,H:xliH,L:xliL,V:xliV,m20:xliMa20,m50:xliMa50,yMin:69.05,yMax:80.27,step:2,dec:0},
 {sym:'XLK',name:'Technology',cl:'Close',close:'70.83',chg:'+2.20 (+3.21%)',up:true,C:xlkC,H:xlkH,L:xlkL,V:xlkV,m20:xlkMa20,m50:xlkMa50,yMin:63.1,yMax:76.42,step:2,dec:0},
 {sym:'XLP',name:'Staples',cl:'Close',close:'52.38',chg:'+0.29 (+0.56%)',up:true,C:xlpC,H:xlpH,L:xlpL,V:xlpV,m20:xlpMa20,m50:xlpMa50,yMin:47.79,yMax:55.24,step:1,dec:0},
 {sym:'XLU',name:'Utilities',cl:'Close',close:'52.95',chg:'-0.06 (-0.11%)',up:false,C:xluC,H:xluH,L:xluL,V:xluV,m20:xluMa20,m50:xluMa50,yMin:47.29,yMax:54.96,step:1,dec:0},
 {sym:'XLV',name:'Health Care',cl:'Close',close:'91.07',chg:'+1.38 (+1.54%)',up:true,C:xlvC,H:xlvH,L:xlvL,V:xlvV,m20:xlvMa20,m50:xlvMa50,yMin:78.15,yMax:96.3,step:2.5,dec:1},
 {sym:'XLY',name:'Discretionary',cl:'Cl',close:'108.48',chg:'+1.97 (+1.85%)',up:true,C:xlyC,H:xlyH,L:xlyL,V:xlyV,m20:xlyMa20,m50:xlyMa50,yMin:99.52,yMax:118.46,step:2.5,dec:1}
];

// ---- layout (pixels) ----
const layout = [
 {box:[1,-1,459,264],  plot:[25,43,383,196],  slots:129},
 {box:[469,-1,457,264],plot:[495,43,382,196], slots:129},
 {box:[939,-1,458,264],plot:[963,43,385,196], slots:129},
 {box:[1408,-1,460,264],plot:[1433,43,372,196],slots:130},
 {box:[1,271,459,264], plot:[25,315,385,198], slots:129},
 {box:[469,271,457,264],plot:[494,315,384,198],slots:129},
 {box:[939,271,458,264],plot:[963,315,386,198],slots:130},
 {box:[1408,271,460,264],plot:[1433,315,384,198],slots:129},
 {box:[469,543,458,265],plot:[494,588,372,196],slots:130},
 {box:[939,543,458,265],plot:[963,588,364,196],slots:130}
];

const FONT = 'DejaVu Sans, Verdana, sans-serif';
const UP_COL = '#000000', DN_COL = '#d6143a';

const dates = [];
const monthStart = {};
(function(){ let acc = 0;
  monthNames.forEach((m, mi) => {
    if (mi > 0) monthStart[acc] = m;
    for (let k = 0; k < monthDays[mi]; k++) dates.push(m + '-' + (k + 1));
    acc += monthDays[mi];
  });
})();

function renderOHLC(params, api) {
  const i = api.value(0);
  const o = api.coord([i, api.value(1)]);
  const c = api.coord([i, api.value(2)]);
  const lo = api.coord([i, api.value(3)]);
  const hi = api.coord([i, api.value(4)]);
  const band = api.size([1, 0])[0];
  const t = Math.max(1, band * 0.42);
  const col = api.value(5) ? UP_COL : DN_COL;
  const x = Math.round(c[0]) + 0.5;
  const st = {stroke: col, lineWidth: 1.2, fill: null};
  return {type: 'group', children: [
    {type: 'line', shape: {x1: x, y1: hi[1] - 0.5, x2: x, y2: lo[1] + 0.5}, style: st},
    {type: 'line', shape: {x1: x - t, y1: o[1], x2: x, y2: o[1]}, style: st},
    {type: 'line', shape: {x1: x, y1: c[1], x2: x + t, y2: c[1]}, style: st}
  ]};
}

const grids = [], xAxes = [], yAxes = [], series = [], graphics = [];
const volUp = {color: '#b3b3b3', borderColor: '#8a8a8a', borderWidth: 0.5};
const volDn = {color: '#f2b2b9', borderColor: '#df6677', borderWidth: 0.5};

panels.forEach((P, p) => {
  const Lo = layout[p];
  const [gl, gt, gw, gh] = Lo.plot;
  grids.push({left: gl, top: gt, width: gw, height: gh, show: true, borderColor: '#a6a6a6', borderWidth: 1, backgroundColor: 'rgba(0,0,0,0)'});
  const cats = dates.slice();
  for (let k = dates.length; k < Lo.slots; k++) cats.push('pad' + k);
  xAxes.push({
    type: 'category', gridIndex: p, data: cats, boundaryGap: true,
    axisLine: {show: false}, axisTick: {show: false},
    axisLabel: {interval: (i) => monthStart[i] !== undefined, formatter: (v, i) => monthStart[i] || '',
      color: '#222', fontSize: 14, fontFamily: FONT, margin: 5},
    splitLine: {show: true, interval: (i) => monthStart[i] !== undefined, lineStyle: {color: '#e0e0e0', width: 1}}
  });
  const step = P.step, dec = P.dec;
  yAxes.push({
    type: 'value', gridIndex: p, position: 'right', min: P.yMin, max: P.yMax,
    minInterval: step, maxInterval: step, splitNumber: 6,
    axisLine: {show: false},
    axisTick: {show: true, length: 4, lineStyle: {color: '#999'}},
    minorTick: {show: true, splitNumber: 5, length: 2, lineStyle: {color: '#bbb'}},
    axisLabel: {color: '#222', fontSize: 14, fontFamily: FONT, margin: 7,
      formatter: (v) => Math.abs(v / step - Math.round(v / step)) < 1e-6 ? v.toFixed(dec) : ''},
    splitLine: {show: true, lineStyle: {color: '#e0e0e0', width: 1}}
  });
  yAxes.push({type: 'value', gridIndex: p, min: 0, max: 100, show: false});

  const ohlc = [], vol = [];
  P.C.forEach((c, i) => {
    const o = i ? P.C[i - 1] : c;
    const up = i ? (c >= P.C[i - 1]) : true;
    const h = Math.max(P.H[i], o, c), l = Math.min(P.L[i], o, c);
    ohlc.push([i, o, c, l, h, up ? 1 : 0]);
    vol.push({value: P.V[i], itemStyle: up ? volUp : volDn});
  });
  series.push({type: 'bar', xAxisIndex: p, yAxisIndex: 2 * p + 1, data: vol, barWidth: '80%', silent: true, z: 1});
  series.push({type: 'line', xAxisIndex: p, yAxisIndex: 2 * p, data: maDays.map((d, k) => [d, P.m50[k]]),
    smooth: 0.3, showSymbol: false, clip: true, lineStyle: {color: '#e2425c', width: 1.5}, z: 2, silent: true});
  series.push({type: 'line', xAxisIndex: p, yAxisIndex: 2 * p, data: maDays.map((d, k) => [d, P.m20[k]]),
    smooth: 0.3, showSymbol: false, clip: true, lineStyle: {color: '#3434a8', width: 1.5}, z: 2, silent: true});
  series.push({type: 'custom', xAxisIndex: p, yAxisIndex: 2 * p, data: ohlc, renderItem: renderOHLC,
    encode: {x: 0, y: [1, 2, 3, 4]}, clip: true, z: 3, silent: true});

  // panel frame and texts
  const [bx, by, bw, bh] = Lo.box;
  graphics.push({type: 'rect', silent: true, z: -10, shape: {x: bx + 0.5, y: by + 0.5, width: bw, height: bh},
    style: {fill: '#fff', stroke: '#c8c8c8', lineWidth: 1}});
  const right = gl + gw;
  graphics.push({type: 'text', silent: true, x: gl, y: by + 15,
    style: {text: '{s|' + P.sym + '} {n|' + P.name + '} {e|NYSE}', verticalAlign: 'middle', fontSize: 14, fontFamily: FONT, fill: '#111',
      rich: {s: {fontSize: 17, fontWeight: 'bold', fontFamily: FONT, fill: '#111'},
             n: {fontSize: 14.5, fontFamily: FONT, fill: '#111'},
             e: {fontSize: 13.5, fontFamily: FONT, fill: '#111'}}}});
  graphics.push({type: 'text', silent: true, x: right, y: by + 15,
    style: {text: '\u00A9 StockCharts.com', textAlign: 'right', verticalAlign: 'middle', fontSize: 14, fontFamily: FONT, fill: '#6e6e6e'}});
  graphics.push({type: 'text', silent: true, x: gl, y: by + 34,
    style: {text: '12-Oct-2018', verticalAlign: 'middle', fontSize: 14, fontFamily: FONT, fill: '#111'}});
  const tri = P.up ? '\u25B2' : '\u25BC';
  graphics.push({type: 'text', silent: true, x: right, y: by + 34,
    style: {text: '{b|' + P.cl + '} {v|' + P.close + '}  {b|Chg} {v|' + P.chg + '} {t|' + tri + '}',
      textAlign: 'right', verticalAlign: 'middle', fontSize: 14, fontFamily: FONT, fill: '#111',
      rich: {b: {fontSize: 15, fontWeight: 'bold', fontFamily: FONT, fill: '#111'},
             v: {fontSize: 14, fontFamily: FONT, fill: '#111'},
             t: {fontSize: 9, fontFamily: FONT, fill: P.up ? '#2f8f3a' : '#b8123a'}}}});
});

const chart = echarts.init(document.getElementById('c'), null, {renderer: 'svg', width: 1854, height: 828});
chart.setOption({
  animation: false,
  backgroundColor: '#fff',
  grid: grids, xAxis: xAxes, yAxis: yAxes, series: series,
  graphic: {elements: graphics}
});
</script>
</body></html>
